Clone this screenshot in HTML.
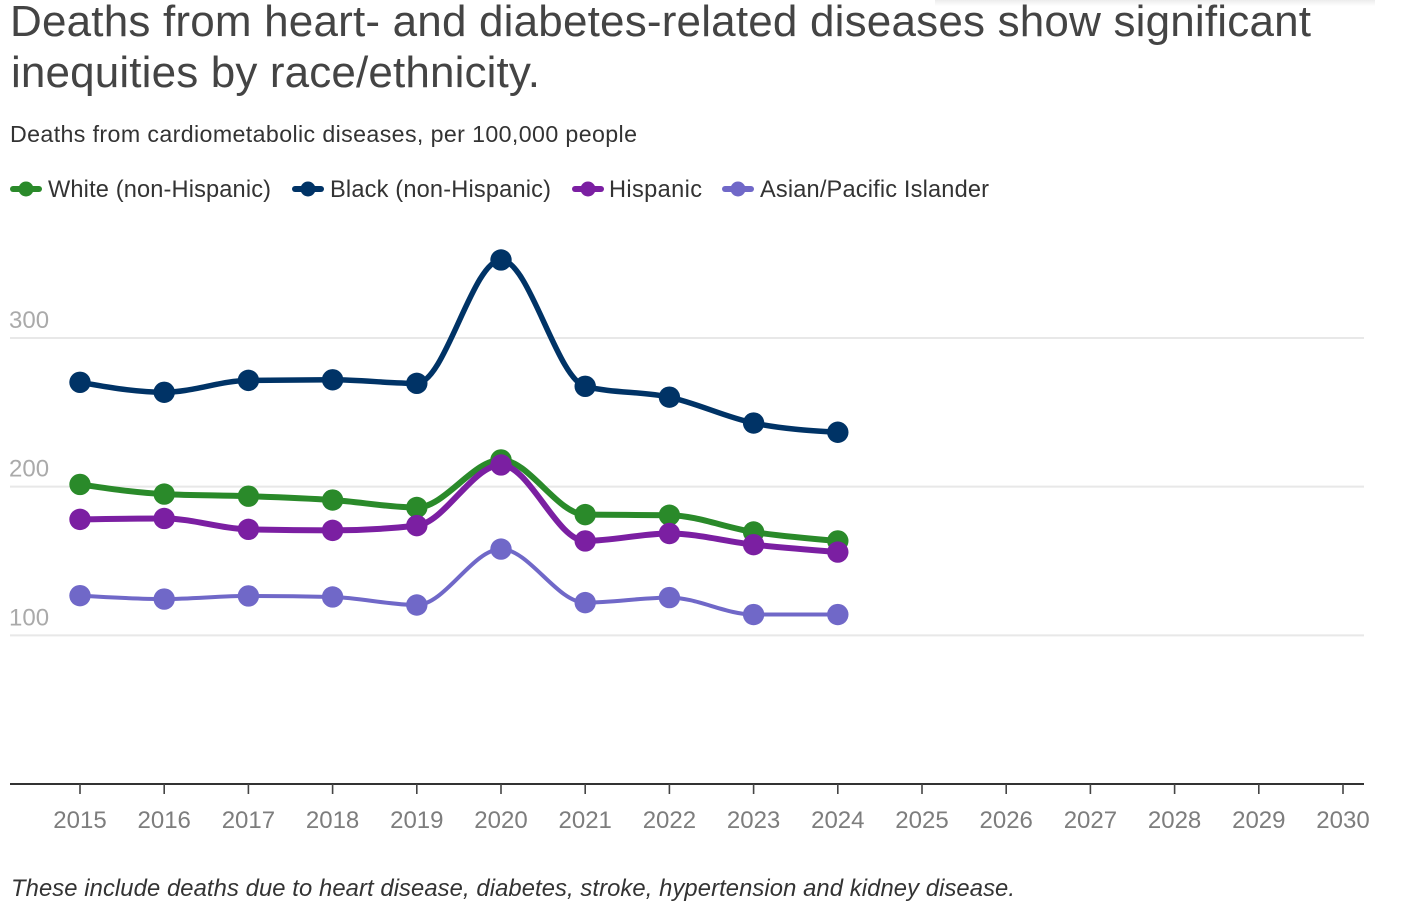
<!DOCTYPE html>
<html lang="en">
<head>
<meta charset="utf-8">
<title>Deaths from cardiometabolic diseases</title>
<style>
html,body{margin:0;padding:0;background:#fff;width:1406px;height:914px;overflow:hidden}
svg{display:block;font-family:"Liberation Sans",Arial,sans-serif}
</style>
</head>
<body>
<svg id="chart" width="1406" height="914" viewBox="0 0 1406 914">
  <defs>
    <linearGradient id="top-shadow" x1="0" y1="0" x2="0" y2="1">
      <stop offset="0" stop-color="#ececec"></stop>
      <stop offset="1" stop-color="#ffffff"></stop>
    </linearGradient>
  </defs>
  <rect x="935" y="0" width="440" height="6" fill="url(#top-shadow)"></rect>
  <text x="10" y="36" font-size="44" fill="#444444" textLength="1301" lengthAdjust="spacing">Deaths from heart- and diabetes-related diseases show significant</text>
  <text x="11" y="87" font-size="44" fill="#444444" textLength="529" lengthAdjust="spacing">inequities by race/ethnicity.</text>
  <text x="10" y="142" font-size="23.2" fill="#333" textLength="627" lengthAdjust="spacing">Deaths from cardiometabolic diseases, per 100,000 people</text>
  <g id="legend"></g>
  <g id="grid"></g>
  <g id="xaxis"></g>
  <g id="series"></g>
  <text x="11" y="896" font-size="23.8" font-style="italic" fill="#333" textLength="1004" lengthAdjust="spacing">These include deaths due to heart disease, diabetes, stroke, hypertension and kidney disease.</text>
</svg>
<script>
const years = [2015,2016,2017,2018,2019,2020,2021,2022,2023,2024];
const axisYears = [2015,2016,2017,2018,2019,2020,2021,2022,2023,2024,2025,2026,2027,2028,2029,2030];
const yTicks = [100,200,300];
const white = [201.5,195,193.6,191,186,218,181.2,180.8,169.5,163.5];
const black = [270.2,263.5,271.5,271.9,269.5,352.5,267.5,260.2,242.8,236.6];
const hispanic = [178,178.6,171.3,170.6,173.8,214.6,163.5,168.5,161,156];
const asian = [126.7,124.4,126.5,125.8,120.4,158,122,125.4,114,114];
const seriesNames = ['White (non-Hispanic)','Black (non-Hispanic)','Hispanic','Asian/Pacific Islander'];
const seriesValues = [white,black,hispanic,asian];
const seriesKeys = ['white','black','hispanic','asian'];
const seriesColors = ['#2a8a2a','#003366','#7b1fa2','#7068c8'];
const seriesWidths = [6,5.5,6,4];
const drawOrder = [1,0,2,3];

const NS = 'http://www.w3.org/2000/svg';
const xScale = y => 80 + (y - 2015) * (1343 - 80) / 15;
const yScale = v => 784 - v * (784 - 338) / 300;

function mk(tag, attrs, parent, text) {
  const el = document.createElementNS(NS, tag);
  for (const k in attrs) el.setAttribute(k, attrs[k]);
  if (text !== undefined) el.textContent = text;
  parent.appendChild(el);
  return el;
}

/* monotone cubic path (Fritsch-Carlson style, as d3.curveMonotoneX) */
function monotonePath(pts) {
  const n = pts.length, sl = [], t = [];
  for (let i = 0; i < n - 1; i++) sl[i] = (pts[i+1][1] - pts[i][1]) / (pts[i+1][0] - pts[i][0]);
  for (let i = 1; i < n - 1; i++) {
    const h0 = pts[i][0] - pts[i-1][0], h1 = pts[i+1][0] - pts[i][0];
    const p = (sl[i-1] * h1 + sl[i] * h0) / (h0 + h1);
    const s = (Math.sign(sl[i-1]) + Math.sign(sl[i])) * Math.min(Math.abs(sl[i-1]), Math.abs(sl[i]), 0.5 * Math.abs(p)) || 0;
    t[i] = s;
  }
  t[0] = (3 * sl[0] - t[1]) / 2;
  t[n-1] = (3 * sl[n-2] - t[n-2]) / 2;
  let d = 'M' + pts[0][0] + ',' + pts[0][1];
  for (let i = 0; i < n - 1; i++) {
    const h = (pts[i+1][0] - pts[i][0]) / 3;
    d += 'C' + (pts[i][0] + h) + ',' + (pts[i][1] + h * t[i]) + ',' + (pts[i+1][0] - h) + ',' + (pts[i+1][1] - h * t[i+1]) + ',' + pts[i+1][0] + ',' + pts[i+1][1];
  }
  return d;
}

const grid = document.getElementById('grid');
yTicks.forEach(v => {
  const line = mk('line', {x1:10, x2:1364, y1:yScale(v), y2:yScale(v), stroke:'#e8e8e8', 'stroke-width':2}, grid);
  
  
  const label = mk('text', {x:9, y:yScale(v) - 10, 'font-size':24, fill:'#aaaaaa'}, grid, String(v));
  
  
});

const xaxis = document.getElementById('xaxis');
const baseline = mk('line', {x1:10, x2:1364, y1:784, y2:784, stroke:'#333', 'stroke-width':2}, xaxis);


axisYears.forEach(y => {
  const tick = mk('line', {x1:xScale(y), x2:xScale(y), y1:784, y2:794, stroke:'#444', 'stroke-width':1.6}, xaxis);
  
  
  const label = mk('text', {x:xScale(y), y:828, 'font-size':24, fill:'#7d7d7d', 'text-anchor':'middle'}, xaxis, String(y));
  
  
});

const seriesG = document.getElementById('series');
drawOrder.forEach(i => {
  const g = mk('g', {}, seriesG);
  
  
  const pts = seriesValues[i].map((v, j) => [xScale(years[j]), yScale(v)]);
  const path = mk('path', {d:monotonePath(pts), fill:'none', stroke:seriesColors[i], 'stroke-width':seriesWidths[i], 'stroke-linejoin':'round'}, g);
  
  
  pts.forEach((p, j) => {
    const c = mk('circle', {cx:p[0], cy:p[1], r:10.7, fill:seriesColors[i]}, g);
    
    
  });
});

const legendSwatchX = [10,292,572,722];
const legendTextX = [48,330,609,760];
const legendTextW = [223,221,93,229];
const legend = document.getElementById('legend');
seriesNames.forEach((name, i) => {
  const g = mk('g', {}, legend);
  
  
  const sw = mk('line', {x1:legendSwatchX[i] + 3, x2:legendSwatchX[i] + 29, y1:189, y2:189, stroke:seriesColors[i], 'stroke-width':6, 'stroke-linecap':'round'}, g);
  
  
  const dot = mk('circle', {cx:legendSwatchX[i] + 16, cy:189, r:7.5, fill:seriesColors[i]}, g);
  
  
  const t = mk('text', {x:legendTextX[i], y:197, 'font-size':23.6, fill:'#333', textLength:legendTextW[i], lengthAdjust:'spacing'}, g, name);
  
  
});
</script>
</body>
</html>
